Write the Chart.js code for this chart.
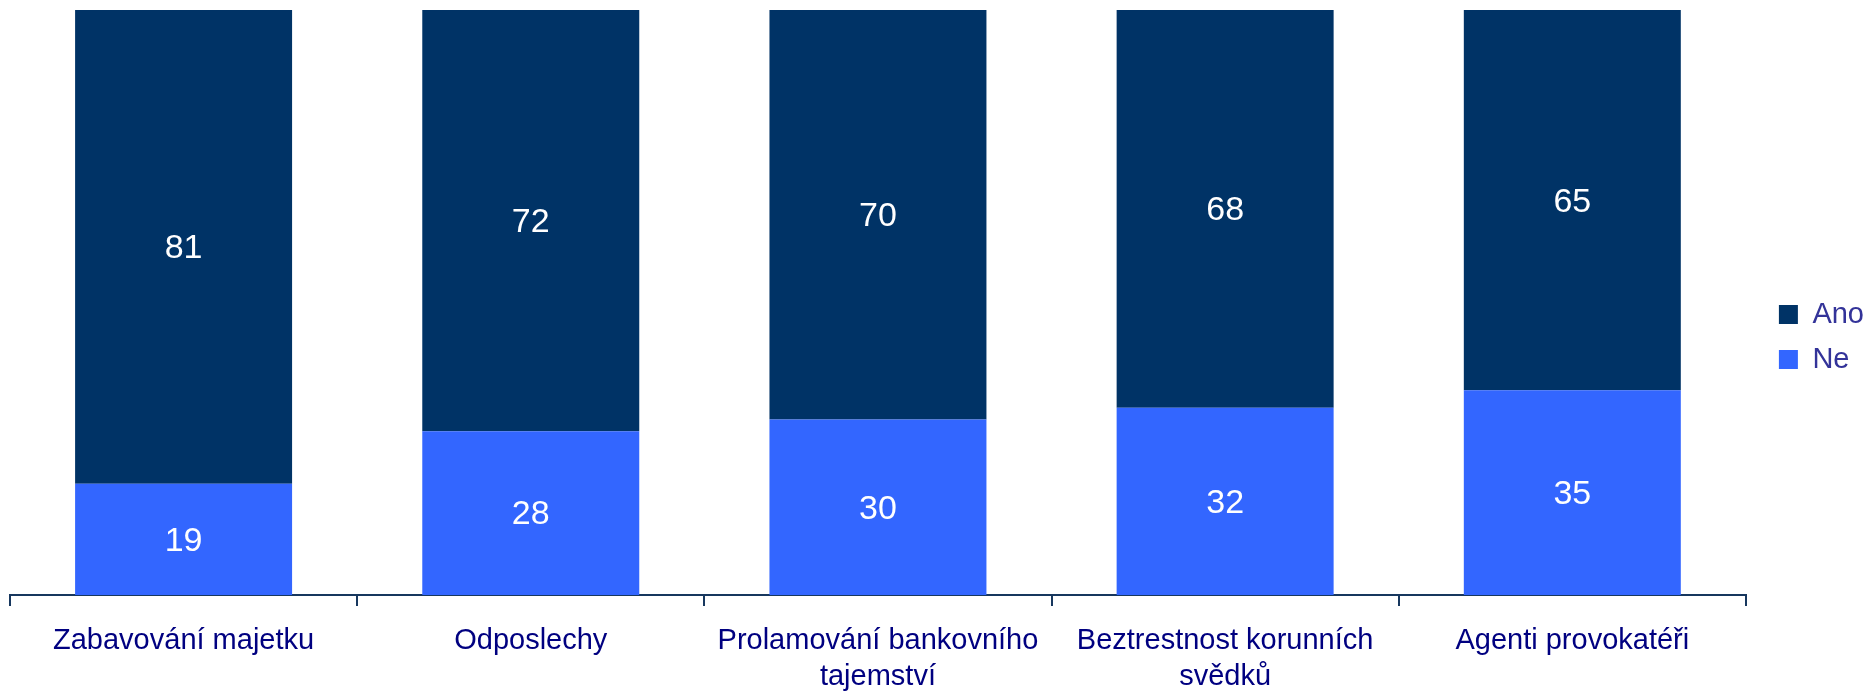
<!DOCTYPE html>
<html>
<head>
<meta charset="utf-8">
<script src="https://cdn.jsdelivr.net/npm/chart.js@4"></script>
<style>
  html, body { margin: 0; padding: 0; background: #fff; }
  #wrap { width: 1874px; height: 692px; }
</style>
</head>
<body>
<div id="wrap"><canvas id="mainChart" width="1874" height="692"></canvas></div>
<script>
// Categories and values
const categories = [
    'Zabavování majetku',
    'Odposlechy',
    ['Prolamování bankovního', 'tajemství'],
    ['Beztrestnost korunních', 'svědků'],
    'Agenti provokatéři'
];
const anoValues = [81, 72, 70, 68, 65];
const neValues = [19, 28, 30, 32, 35];

const FONT = "'Liberation Sans', Arial, sans-serif";

// simple value labels in the middle of each bar segment
const barLabels = {
    id: 'barLabels',
    afterDatasetsDraw(chart) {
        const ctx = chart.ctx;
        ctx.save();
        ctx.fillStyle = '#ffffff';
        ctx.font = '34px ' + FONT;
        ctx.textAlign = 'center';
        ctx.textBaseline = 'middle';
        chart.data.datasets.forEach((ds, i) => {
            chart.getDatasetMeta(i).data.forEach((bar, j) => {
                const y = (bar.y + bar.base) / 2 + 2;
                ctx.fillText(ds.data[j], bar.x, y);
            });
        });
        ctx.restore();
    }
};

const ctx = document.getElementById('mainChart').getContext('2d');
new Chart(ctx, {
    type: 'bar',
    data: {
        labels: categories,
        datasets: [{
            label: 'Ne',
            data: neValues,
            backgroundColor: '#3366FF'
        }, {
            label: 'Ano',
            data: anoValues,
            backgroundColor: '#003366'
        }]
    },
    options: {
        responsive: false,
        animation: false,
        categoryPercentage: 1,
        barPercentage: 0.625,
        layout: {
            padding: { top: 10, left: 10, right: 0, bottom: 0 }
        },
        scales: {
            x: {
                stacked: true,
                border: { display: true, color: '#17375e', width: 2 },
                grid: {
                    display: true,
                    drawOnChartArea: false,
                    drawTicks: true,
                    tickLength: 11,
                    color: '#17375e',
                    lineWidth: 2
                },
                ticks: {
                    color: '#000080',
                    padding: 17,
                    maxRotation: 0,
                    autoSkip: false,
                    font: { family: FONT, size: 29, lineHeight: 1.25 }
                },
                afterFit(scale) { scale.height = 97; }
            },
            y: {
                stacked: true,
                position: 'right',
                min: 0,
                max: 100,
                grid: { display: false },
                border: { display: false },
                ticks: { display: false },
                // blank gap between the plot and the legend
                afterFit(scale) { scale.width = 17; }
            }
        },
        plugins: {
            legend: {
                position: 'right',
                align: 'start',
                reverse: true,
                // empty title only used as a spacer above the items
                title: {
                    display: true,
                    text: '',
                    padding: { top: 0, bottom: 262 },
                    font: { size: 10, lineHeight: 1.2 }
                },
                labels: {
                    color: '#333399',
                    boxWidth: 19,
                    boxHeight: 19,
                    padding: 16,
                    font: { family: FONT, size: 29 }
                }
            },
            tooltip: { enabled: false }
        }
    },
    plugins: [barLabels]
});
</script>
</body>
</html>
